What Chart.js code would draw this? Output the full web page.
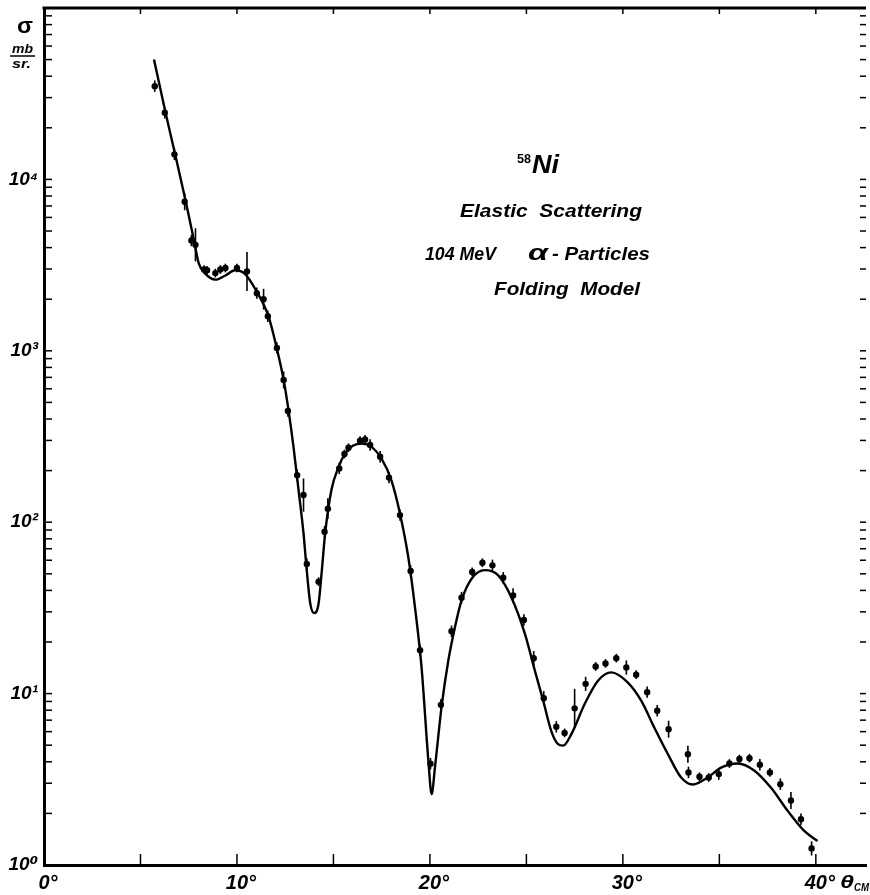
<!DOCTYPE html>
<html><head><meta charset="utf-8">
<script src="https://cdn.jsdelivr.net/npm/chart.js@4.4.1/dist/chart.umd.min.js"></script>
<style>html,body{margin:0;padding:0;background:#fff;} #wrap{width:870px;height:895px;}</style>
</head><body><div id="wrap"><canvas id="c" width="870" height="895"></canvas></div>
<script>
// Folding-model curve (theta_CM in degrees, cross section in mb/sr)
const theoryAngle = [5.7,6.3,6.81,7.33,7.76,8.02,8.36,8.88,9.4,9.9,10.4,11.0,11.64,12.05,12.42,12.67,12.93,13.19,13.45,13.6,13.8,14.0,14.23,14.4,14.57,14.9,15.26,15.6,16.0,16.47,16.97,17.5,18.0,18.45,18.88,19.23,19.57,19.92,20.09,20.26,20.6,20.95,21.3,21.64,22.16,22.85,23.54,24.23,24.92,25.44,25.87,26.3,26.64,26.9,27.33,28.02,28.71,29.4,30.26,30.95,31.64,32.33,33.02,33.63,34.4,35.09,35.95,36.82,37.68,38.54,39.4,40.09];
const theoryValue = [50100,24500,13800,7590,4470,3240,2820,2600,2750,2950,2820,2240,1585,1050,676,452,275,155,86,55,33.5,29.5,33.5,52.5,86,155,209,251,279,288,275,234,176,112,62.4,31.6,14.1,4.06,2.59,3.70,8.3,15.5,24.5,35,46.8,52.5,49,36.3,22.4,13.6,9.1,6.0,5.07,4.97,5.8,8.7,11.9,13.3,11.6,9.1,6.3,4.44,3.24,2.95,3.24,3.70,3.91,3.55,2.82,2.07,1.58,1.38];
// Measured points
const dataAngle = [5.74,6.26,6.76,7.29,7.64,7.85,8.3,8.45,8.88,9.14,9.4,10.0,10.52,11.03,11.38,11.6,12.07,12.42,12.64,13.12,13.45,13.62,14.23,14.54,14.71,15.3,15.57,15.78,16.38,16.64,16.9,17.42,17.88,18.45,19.0,19.49,20.03,20.57,21.12,21.64,22.19,22.72,23.24,23.8,24.31,24.87,25.38,25.9,26.55,26.98,27.5,28.07,28.59,29.1,29.66,30.18,30.69,31.26,31.78,32.37,33.37,33.4,33.97,34.45,34.97,35.52,36.04,36.56,37.1,37.62,38.16,38.71,39.23,39.78];
const dataValue = [35000,24500,14000,7400,4400,4150,2980,2950,2840,2980,3040,3040,2900,2170,2000,1590,1040,676,446,188,144,57,45,88,120,206,250,272,299,304,282,241,182,110,52,17.9,3.9,8.6,23.1,36.3,51.3,58,56,47.4,37.4,26.9,16.1,9.4,6.4,5.9,8.2,11.4,14.4,15.0,16.1,14.2,12.9,10.2,7.95,6.2,4.43,3.47,3.27,3.24,3.39,3.91,4.15,4.2,3.85,3.47,2.96,2.38,1.85,1.25];
const dataErrorPct = [8,8,8,12,8,25,6,6,6,6,6,6,30,8,15,8,8,12,8,8,25,8,6,8,15,8,6,6,6,6,8,8,8,8,8,8,8,8,8,8,6,6,8,8,10,8,10,10,8,6,30,10,6,6,6,10,6,8,8,12,12,8,6,6,8,6,6,6,8,6,8,12,8,10];
const xTickValues = [0,10,20,30,40];
const xTickLabels = ['0°','10°','20°','30°','40°'];
const yTickLabels = ['10⁰','10¹','10²','10³','10⁴'];

const FONT = "'Liberation Sans','DejaVu Sans',sans-serif";

function fitText(ctx, txt, x, y, w, font){
  ctx.font = font;
  const m = ctx.measureText(txt).width;
  ctx.save(); ctx.translate(x, y); ctx.scale(w/m, 1);
  ctx.textAlign='left'; ctx.textBaseline='alphabetic';
  ctx.fillText(txt, 0, 0); ctx.restore();
}

const decorPlugin = {
  id:'decor',
  afterDatasetsDraw(chart){
    const {ctx, chartArea:a, scales:{x, y}} = chart;
    ctx.save();
    ctx.strokeStyle='#000'; ctx.fillStyle='#000';
    // error bars
    ctx.lineWidth=1.6;
    for(let i=0;i<dataAngle.length;i++){
      const px = x.getPixelForValue(dataAngle[i]);
      const f = 1 + dataErrorPct[i]/100;
      const y1 = y.getPixelForValue(dataValue[i]*f), y2 = y.getPixelForValue(dataValue[i]/f);
      ctx.beginPath(); ctx.moveTo(px,y1); ctx.lineTo(px,y2); ctx.stroke();
    }
    // top frame
    ctx.lineWidth=3;
    ctx.beginPath(); ctx.moveTo(a.left-1.5, a.top); ctx.lineTo(a.right, a.top); ctx.stroke();
    // inner log minor ticks, left and right
    ctx.lineWidth=1.5;
    for(let d=0; d<5; d++){
      for(let m=1; m<10; m++){
        const py = y.getPixelForValue(m*Math.pow(10,d));
        ctx.beginPath(); ctx.moveTo(a.left, py); ctx.lineTo(a.left+8, py); ctx.stroke();
        ctx.beginPath(); ctx.moveTo(a.right-6, py); ctx.lineTo(a.right, py); ctx.stroke();
      }
    }
    // x ticks bottom and top
    for(let t=5; t<=40; t+=5){
      const px = x.getPixelForValue(t);
      ctx.beginPath(); ctx.moveTo(px, a.bottom); ctx.lineTo(px, a.bottom-11); ctx.stroke();
      ctx.beginPath(); ctx.moveTo(px, a.top); ctx.lineTo(px, a.top+6); ctx.stroke();
    }
    // y-axis unit
    fitText(ctx, 'σ', 17, 33, 16, `bold 22px ${FONT}`);
    fitText(ctx, 'mb', 12, 53, 21, `italic bold 12px ${FONT}`);
    ctx.lineWidth=1.5;
    ctx.beginPath(); ctx.moveTo(10, 56); ctx.lineTo(35, 56); ctx.stroke();
    fitText(ctx, 'sr.', 12, 68, 19, `italic bold 12px ${FONT}`);
    // x-axis unit
    fitText(ctx, 'θ', 840, 888, 14, `italic bold 19px ${FONT}`);
    fitText(ctx, 'CM', 854, 891, 15, `italic bold 10px ${FONT}`);
    // annotation
    fitText(ctx, '58', 517, 163, 14, `bold 12px ${FONT}`);
    fitText(ctx, 'Ni', 532, 173, 27, `italic bold 25px ${FONT}`);
    fitText(ctx, 'Elastic  Scattering', 460, 217, 182, `italic bold 18px ${FONT}`);
    fitText(ctx, '104 MeV', 425, 260, 71, `italic bold 19px ${FONT}`);
    fitText(ctx, 'α', 528, 260, 20, `italic bold 22px ${FONT}`);
    fitText(ctx, '- Particles', 552, 260, 98, `italic bold 19px ${FONT}`);
    fitText(ctx, 'Folding  Model', 494, 295, 146, `italic bold 18px ${FONT}`);
    ctx.restore();
  }
};

new Chart(document.getElementById('c'), {
  type:'scatter',
  data:{
    datasets:[
      { label:'Folding Model',
        data: theoryAngle.map((a,i)=>({x:a, y:theoryValue[i]})),
        showLine:true, borderColor:'#000', borderWidth:2.4, pointRadius:0,
        cubicInterpolationMode:'monotone', fill:false, order:2 },
      { label:'Data',
        data: dataAngle.map((a,i)=>({x:a, y:dataValue[i]})),
        showLine:false, pointRadius:3.2, pointBackgroundColor:'#000',
        pointBorderWidth:0, pointBorderColor:'#000', order:1 }
    ]
  },
  options:{
    responsive:false, animation:false, devicePixelRatio:1,
    layout:{padding:{top:8, right:2, left:0, bottom:0}},
    plugins:{legend:{display:false}, tooltip:{enabled:false}},
    scales:{
      x:{ type:'linear', min:0, max:42.6, position:'bottom',
        grid:{display:false, drawTicks:false}, border:{display:true, width:3, color:'#000'},
        afterFit(s){ s.height = 30; s.paddingLeft = 0; s.paddingRight = 0; },
        afterBuildTicks(s){ s.ticks = xTickValues.map(v=>({value:v})); },
        ticks:{ autoSkip:false, padding:6, labelOffset:4, color:'#000',
          font:{family:FONT, size:20, weight:'bold', style:'italic'},
          callback:(v)=> { const i = xTickValues.indexOf(v); return i>=0 ? xTickLabels[i] : ''; } } },
      y:{ type:'logarithmic', min:1, max:100000, position:'left',
        grid:{display:false, drawTicks:false}, border:{display:true, width:3, color:'#000'},
        afterFit(s){ s.width = 44; s.paddingTop = 0; s.paddingBottom = 0; },
        ticks:{ autoSkip:false, padding:6, color:'#000',
          font:{family:FONT, size:19, weight:'bold', style:'italic'},
          callback:(v)=>{ const e=Math.log10(v); const r=Math.round(e);
            return (Math.abs(e-r)<1e-9 && r<yTickLabels.length) ? yTickLabels[r] : ''; } } }
    }
  },
  plugins:[decorPlugin]
});
</script></body></html>
